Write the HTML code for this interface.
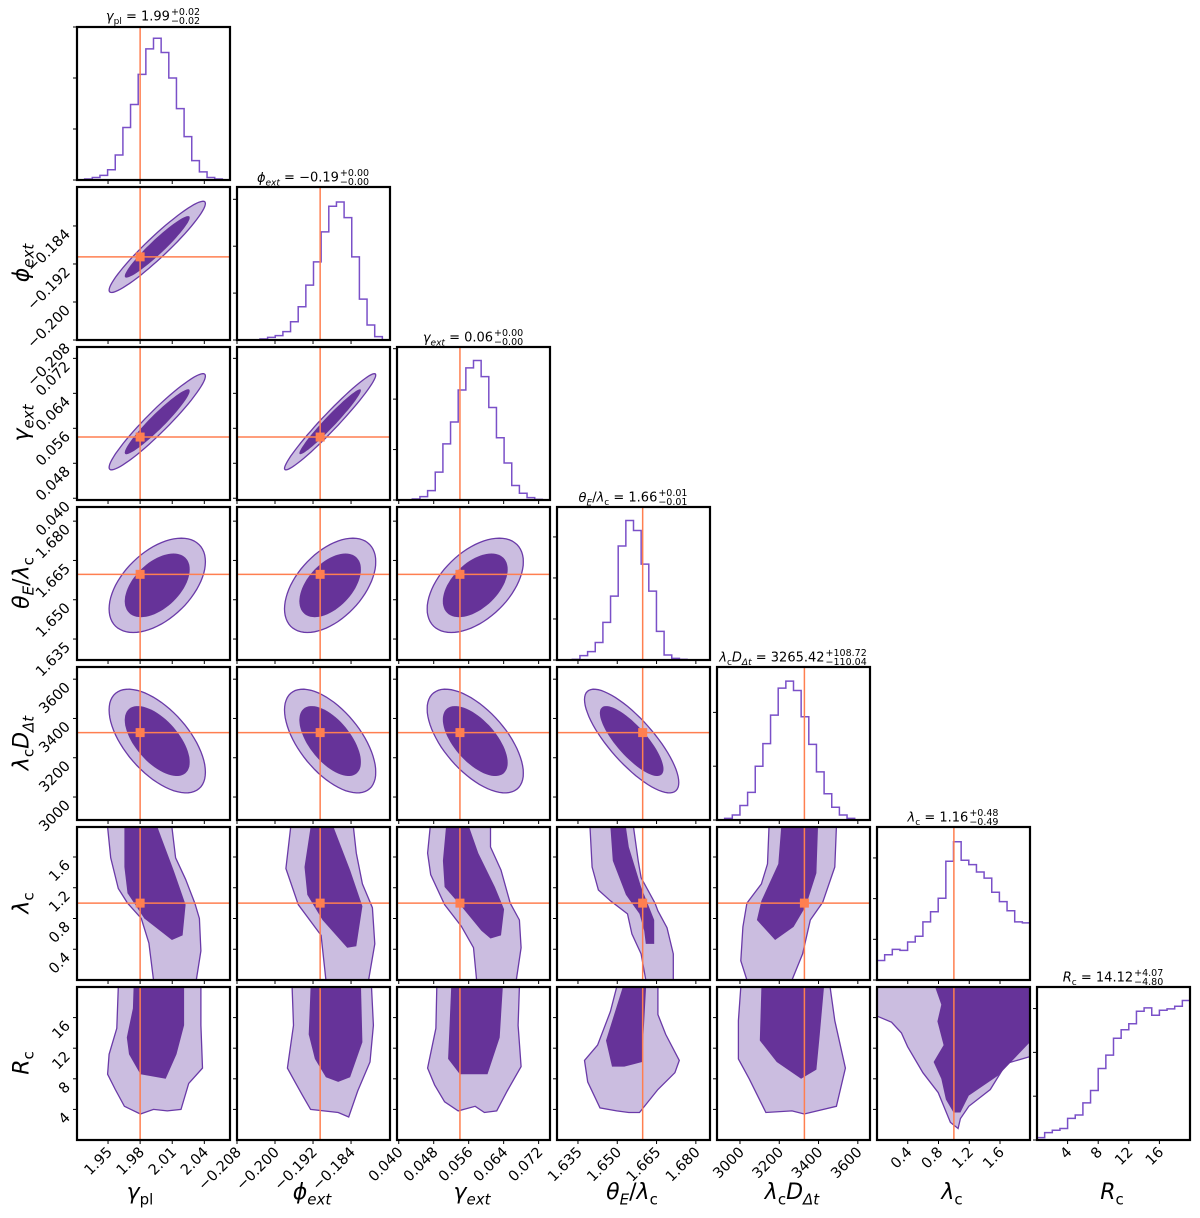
<!DOCTYPE html>
<html><head><meta charset="utf-8">
<style>
body{margin:0;background:#fff;}
#wrap{position:relative;width:1200px;height:1218px;overflow:hidden;font-family:"DejaVu Sans","Liberation Sans",sans-serif;}
svg{position:absolute;left:0;top:0;}
.t{position:absolute;font-size:13px;white-space:nowrap;transform:translateX(-50%);line-height:1;}
.ss{display:inline-block;vertical-align:middle;font-size:9.5px;line-height:9px;text-align:left;margin-left:1px;}
.ax{position:absolute;font-size:22px;white-space:nowrap;line-height:1;}
.ax sub{font-size:15px;}
i{font-style:italic;}
</style></head><body>
<div id="wrap">
<svg id="svg" width="1200" height="1218"></svg>
<div class="t" style="left:153px;top:8px"><i>γ</i><sub style="font-size:9px">pl</sub> = 1.99<span class="ss">+0.02<br>−0.02</span></div>
<div class="t" style="left:313px;top:169px"><i>ϕ<sub style="font-size:9px">ext</sub></i> = −0.19<span class="ss">+0.00<br>−0.00</span></div>
<div class="t" style="left:473px;top:329px"><i>γ<sub style="font-size:9px">ext</sub></i> = 0.06<span class="ss">+0.00<br>−0.00</span></div>
<div class="t" style="left:633px;top:489px"><i>θ<sub style="font-size:9px">E</sub></i>/<i>λ</i><sub style="font-size:9px">c</sub> = 1.66<span class="ss">+0.01<br>−0.01</span></div>
<div class="t" style="left:793px;top:649px"><i>λ</i><sub style="font-size:9px">c</sub><i>D</i><sub style="font-size:9px"><i>Δt</i></sub> = 3265.42<span class="ss">+108.72<br>−110.04</span></div>
<div class="t" style="left:953px;top:809px"><i>λ</i><sub style="font-size:9px">c</sub> = 1.16<span class="ss">+0.48<br>−0.49</span></div>
<div class="t" style="left:1113px;top:969px"><i>R</i><sub style="font-size:9px">c</sub> = 14.12<span class="ss">+4.07<br>−4.80</span></div>

<div class="ax" style="left:140px;top:1182px;transform:translateX(-50%)"><i>γ</i><sub>pl</sub></div>
<div class="ax" style="left:312px;top:1182px;transform:translateX(-50%)"><i>ϕ<sub>ext</sub></i></div>
<div class="ax" style="left:472px;top:1182px;transform:translateX(-50%)"><i>γ<sub>ext</sub></i></div>
<div class="ax" style="left:632px;top:1182px;transform:translateX(-50%)"><i>θ<sub>E</sub></i>/<i>λ</i><sub>c</sub></div>
<div class="ax" style="left:792px;top:1182px;transform:translateX(-50%)"><i>λ</i><sub>c</sub><i>D</i><sub><i>Δt</i></sub></div>
<div class="ax" style="left:952px;top:1182px;transform:translateX(-50%)"><i>λ</i><sub>c</sub></div>
<div class="ax" style="left:1112px;top:1182px;transform:translateX(-50%)"><i>R</i><sub>c</sub></div>

<div class="ax" style="left:24px;top:263px;transform:translate(-50%,-50%) rotate(-90deg)"><i>ϕ<sub>ext</sub></i></div>
<div class="ax" style="left:24px;top:423px;transform:translate(-50%,-50%) rotate(-90deg)"><i>γ<sub>ext</sub></i></div>
<div class="ax" style="left:24px;top:583px;transform:translate(-50%,-50%) rotate(-90deg)"><i>θ<sub>E</sub></i>/<i>λ</i><sub>c</sub></div>
<div class="ax" style="left:24px;top:743px;transform:translate(-50%,-50%) rotate(-90deg)"><i>λ</i><sub>c</sub><i>D</i><sub><i>Δt</i></sub></div>
<div class="ax" style="left:24px;top:903px;transform:translate(-50%,-50%) rotate(-90deg)"><i>λ</i><sub>c</sub></div>
<div class="ax" style="left:24px;top:1063px;transform:translate(-50%,-50%) rotate(-90deg)"><i>R</i><sub>c</sub></div>
</div>
<script>
// ---- data ----
const params = ["gamma-pl","phi-ext","gamma-ext","theta-e","lambda-d","lambda-c","r-c"];
const rangeLo = [1.921, -0.208, 0.0396, 1.627, 2883, 0, 0];
const rangeHi = [2.064, -0.1758, 0.0746, 1.6854, 3662, 1.99, 20];
const truth = [1.98, -0.1905, 0.054, 1.6597, 3328, 1.0, null];
const tickVals = [
 [1.95,1.98,2.01,2.04],
 [-0.208,-0.200,-0.192,-0.184],
 [0.040,0.048,0.056,0.064,0.072],
 [1.635,1.650,1.665,1.680],
 [3000,3200,3400,3600],
 [0.4,0.8,1.2,1.6],
 [4,8,12,16]];
const tickLabels = [
 ["1.95","1.98","2.01","2.04"],
 ["−0.208","−0.200","−0.192","−0.184"],
 ["0.040","0.048","0.056","0.064","0.072"],
 ["1.635","1.650","1.665","1.680"],
 ["3000","3200","3400","3600"],
 ["0.4","0.8","1.2","1.6"],
 ["4","8","12","16"]];
const hist0 = [0,2,5,9,20,49,103,148,207,257,278,250,200,140,85,38,16,5,2,0];
const hist1 = [0,0,0,3,8,13,25,55,100,165,235,325,402,415,368,250,123,45,10,0];
const hist2 = [0,0,3,10,28,83,167,232,327,393,415,367,275,185,110,43,20,7,2,0];
const hist3 = [0,0,2,13,25,52,112,190,339,415,385,285,205,85,15,5,2,0,0,0];
const hist4 = [0,5,15,43,82,160,227,312,392,413,385,307,225,143,78,38,15,5,0,0];
const hist5 = [58,75,91,88,113,130,173,203,243,353,411,356,343,321,303,261,233,206,173,170];
const hist6 = [7,22,29,34,64,74,110,147,212,252,302,327,345,382,392,370,385,389,397,414];
const histMax = [300,460,455,455,455,455,454];
const histTickStep = [100,141,150,122,160,121,130];
const postMean = [1.996, -0.1884, 0.0575, 1.6555, 3285];
const postSd = [0.0225, 0.0048, 0.0055, 0.0090, 132];
const corrPairs = [
 [0,1,0.95],[0,2,0.95],[1,2,0.97],
 [0,3,0.5],[1,3,0.5],[2,3,0.5],
 [0,4,-0.6],[1,4,-0.6],[2,4,-0.62],[3,4,-0.8]];
const contours = {
 "0,5":{outer:[[1.9496,1.99],[1.9525,1.59],[1.9596,1.19],[1.9682,1.0],[1.9811,0.80],[1.9882,0.48],[1.9925,0],[2.0325,0],[2.0368,0.38],[2.0354,0.80],[2.0311,1.0],[2.0225,1.31],[2.0132,1.59],[2.0097,1.99]],
        inner:[[1.9653,1.99],[1.9653,1.47],[1.9682,1.13],[1.9839,0.80],[2.0097,0.52],[2.0197,0.58],[2.0225,0.98],[2.0118,1.41],[1.9961,1.99]]},
 "1,5":{outer:[[-0.1967,1.99],[-0.1977,1.45],[-0.1951,0.98],[-0.1903,0.58],[-0.1893,0],[-0.1803,0],[-0.1790,0.47],[-0.1795,0.94],[-0.1816,1.25],[-0.1829,1.65],[-0.1835,1.99]],
        inner:[[-0.1925,1.99],[-0.1938,1.47],[-0.1932,1.11],[-0.1900,0.78],[-0.1848,0.42],[-0.1829,0.44],[-0.1816,0.96],[-0.1842,1.43],[-0.1877,1.99]]},
 "2,5":{outer:[[0.0472,1.99],[0.0466,1.65],[0.0473,1.37],[0.0505,0.98],[0.0543,0.70],[0.0571,0.42],[0.0578,0],[0.0669,0],[0.0680,0.42],[0.0676,0.78],[0.0655,1.0],[0.0634,1.43],[0.0610,1.73],[0.0610,1.99]],
        inner:[[0.0508,1.99],[0.0501,1.55],[0.0505,1.21],[0.0543,0.96],[0.0589,0.64],[0.0610,0.54],[0.0634,0.58],[0.0641,0.92],[0.0620,1.21],[0.0582,1.65],[0.0561,1.99]]},
 "3,5":{outer:[[1.6396,1.99],[1.6404,1.47],[1.6428,1.17],[1.6474,1.03],[1.6539,0.86],[1.6556,0.60],[1.6591,0.34],[1.6609,0],[1.6714,0],[1.6714,0.34],[1.6690,0.68],[1.6655,0.90],[1.6644,1.0],[1.6591,1.33],[1.6580,1.55],[1.6562,1.99]],
        inner:[[1.6474,1.99],[1.6483,1.55],[1.6533,1.11],[1.6585,0.86],[1.6603,0.64],[1.6609,0.47],[1.6641,0.47],[1.6641,0.78],[1.6591,1.21],[1.6544,1.73],[1.6533,1.99]]},
 "4,5":{outer:[[3148,1.99],[3140,1.51],[3109,1.25],[3035,1.0],[3015,0.69],[3004,0.25],[3035,0],[3265,0],[3319,0.34],[3358,0.78],[3421,1.01],[3483,1.47],[3491,1.99]],
        inner:[[3210,1.99],[3195,1.51],[3109,1.03],[3086,0.78],[3179,0.52],[3273,0.69],[3335,0.96],[3389,1.39],[3397,1.99]]},
 "0,6":{outer:[[1.9596,20],[1.9582,14.6],[1.9510,11.2],[1.9496,8.6],[1.9568,6.6],[1.9653,4.4],[1.9803,3.4],[1.9925,4.0],[2.0054,3.8],[2.0182,4.0],[2.0254,7.4],[2.0383,9.4],[2.0368,15],[2.0368,20]],
        inner:[[1.9739,20],[1.9732,17.2],[1.9675,13.4],[1.9696,11.2],[1.9803,8.6],[2.0039,8.0],[2.0140,11.2],[2.0211,15],[2.0211,20]]},
 "1,6":{outer:[[-0.1964,20],[-0.1961,15],[-0.1974,9.4],[-0.1958,7.6],[-0.1942,5.8],[-0.1925,4.0],[-0.1867,3.6],[-0.1845,3.0],[-0.1826,6.4],[-0.1800,10.2],[-0.1793,15],[-0.1797,20]],
        inner:[[-0.1925,20],[-0.1929,13.8],[-0.1916,10.6],[-0.1893,8.2],[-0.1867,7.6],[-0.1842,8.2],[-0.1816,12.8],[-0.1819,20]]},
 "2,6":{outer:[[0.0487,20],[0.0485,14.6],[0.0466,9.4],[0.0482,7.2],[0.0505,5.0],[0.0536,3.8],[0.0575,4.4],[0.0596,3.6],[0.0624,3.8],[0.0648,6.4],[0.0680,9.6],[0.0673,15],[0.0676,20]],
        inner:[[0.0520,20],[0.0513,10.6],[0.0540,8.6],[0.0575,8.6],[0.0603,8.6],[0.0631,13.4],[0.0638,20]]},
 "3,6":{outer:[[1.6498,20],[1.6474,16.8],[1.6425,12.4],[1.6375,10.4],[1.6387,7.6],[1.6434,4.2],[1.6498,3.8],[1.6544,3.6],[1.6585,3.6],[1.6655,6.6],[1.6720,8.8],[1.6737,10.4],[1.6685,13.8],[1.6655,16.4],[1.6655,20]],
        inner:[[1.6521,20],[1.6457,13.0],[1.6480,9.6],[1.6527,9.6],[1.6595,10.2],[1.6600,13.8],[1.6610,20]]},
 "4,6":{outer:[[3004,20],[2992,15.6],[2992,10.6],[3047,8.0],[3132,3.6],[3265,3.8],[3327,3.4],[3491,4.4],[3537,9.4],[3483,15.6],[3459,20]],
        inner:[[3109,20],[3101,13.0],[3187,10.2],[3311,8.0],[3389,9.2],[3405,13.4],[3428,20]]},
 "5,6":{outer:[[0,20],[0,16.2],[0.189,15.4],[0.318,14],[0.398,12.2],[0.597,8.8],[0.796,6.2],[0.955,2.3],[1.055,1.5],[1.085,2.8],[1.194,4.4],[1.473,6.6],[1.682,10],[1.99,10.9],[1.99,20]],
        inner:[[0.756,20],[0.836,17.7],[0.786,15.5],[0.866,12.4],[0.736,10.2],[0.836,8],[0.896,5.3],[0.995,3.6],[1.085,3.6],[1.194,5.8],[1.572,8.4],[1.99,12.8],[1.99,20]]}
};
const hists = [hist0,hist1,hist2,hist3,hist4,hist5,hist6];

const L0=77, T0=27, S=153, PITCH=160;
const NS="http://www.w3.org/2000/svg";
const svg=document.getElementById('svg');
const px=c=>L0+c*PITCH, py=r=>T0+r*PITCH;
const sx=(c,v)=>px(c)+(v-rangeLo[c])/(rangeHi[c]-rangeLo[c])*S;
const sy=(r,v)=>py(r)+S-(v-rangeLo[r])/(rangeHi[r]-rangeLo[r])*S;
function mk(tag,attrs,parent){const e=document.createElementNS(NS,tag);for(const k in attrs)e.setAttribute(k,attrs[k]);(parent||svg).appendChild(e);return e;}
const ORANGE="#ff7f50", DARK="#663399", LIGHT="#cbbde0", EDGE="#6a3aa8", HIST="#7a50c8";

const defs=mk('defs',{});
for(let r=0;r<7;r++)for(let c=0;c<=r;c++){
  const cp=mk('clipPath',{id:'cp'+c+'_'+r},defs);
  mk('rect',{x:px(c),y:py(r),width:S,height:S},cp);
}

function polyPts(c,r,arr){return arr.map(p=>sx(c,p[0]).toFixed(1)+','+sy(r,p[1]).toFixed(1)).join(' ');}
function ellipsePts(c,r,rho,k){
  const out=[];
  for(let i=0;i<72;i++){const t=i/72*2*Math.PI;
    const xv=postMean[c]+k*postSd[c]*Math.cos(t);
    const yv=postMean[r]+k*postSd[r]*(rho*Math.cos(t)+Math.sqrt(1-rho*rho)*Math.sin(t));
    out.push([xv,yv]);}
  return out;
}

for(let r=0;r<7;r++){
  for(let c=0;c<=r;c++){
    const g=mk('g',{'clip-path':'url(#cp'+c+'_'+r+')'});
    
    
    if(r===c){
      const h=hists[c], n=h.length, w=(rangeHi[c]-rangeLo[c])/n;
      let d='';
      for(let i=0;i<n;i++){
        const x0=sx(c,rangeLo[c]+i*w), x1=sx(c,rangeLo[c]+(i+1)*w);
        const y=py(r)+S-h[i]/histMax[c]*S;
        d+=(i===0?'M'+x0+','+y:'L'+x0+','+y)+'L'+x1+','+y;
      }
      const p=mk('path',{d:d,fill:'none',stroke:HIST,'stroke-width':1.5},g);
      
      
      if(truth[c]!==null){
        const tl=mk('line',{x1:sx(c,truth[c]),x2:sx(c,truth[c]),y1:py(r),y2:py(r)+S,stroke:ORANGE,'stroke-width':1.5},g);
        
        
      }
    } else {
      let outer, inner;
      const key=c+','+r;
      if(contours[key]){outer=contours[key].outer;inner=contours[key].inner;}
      else{const cp=corrPairs.find(q=>q[0]===c&&q[1]===r);outer=ellipsePts(c,r,cp[2],2.0);inner=ellipsePts(c,r,cp[2],1.35);}
      const po=mk('polygon',{points:polyPts(c,r,outer),fill:LIGHT,stroke:EDGE,'stroke-width':1.3},g);
      
      
      const pi=mk('polygon',{points:polyPts(c,r,inner),fill:DARK,stroke:'none'},g);
      
      
      if(truth[c]!==null){
        const vl=mk('line',{x1:sx(c,truth[c]),x2:sx(c,truth[c]),y1:py(r),y2:py(r)+S,stroke:ORANGE,'stroke-width':1.5},g);
        
        
      }
      if(truth[r]!==null){
        const hl=mk('line',{x1:px(c),x2:px(c)+S,y1:sy(r,truth[r]),y2:sy(r,truth[r]),stroke:ORANGE,'stroke-width':1.5},g);
        
        
        if(truth[c]!==null){
          const m=mk('rect',{x:sx(c,truth[c])-4.5,y:sy(r,truth[r])-4.5,width:9,height:9,fill:ORANGE},g);
          
          
        }
      }
    }
    const fr=mk('rect',{x:px(c),y:py(r),width:S,height:S,fill:'none',stroke:'#000','stroke-width':2.2});
    
    
    tickVals[c].forEach((v,i)=>{
      const x=sx(c,v);
      mk('line',{x1:x,x2:x,y1:py(r)+S,y2:py(r)+S+4,stroke:'#000','stroke-width':1});
      if(r===6){
        const t=mk('text',{x:x+5,y:py(r)+S+13,'text-anchor':'end','font-size':14.5,transform:'rotate(-45 '+(x+5)+' '+(py(r)+S+13)+')'});
        t.textContent=tickLabels[c][i];
        
        
      }
    });
    if(r===c){
      for(let v=0;v<=histMax[c];v+=histTickStep[c]){
        const y=py(r)+S-v/histMax[c]*S;
        mk('line',{x1:px(c)-4,x2:px(c),y1:y,y2:y,stroke:'#000','stroke-width':1});
      }
    } else {
      tickVals[r].forEach((v,i)=>{
        const y=sy(r,v);
        mk('line',{x1:px(c)-4,x2:px(c),y1:y,y2:y,stroke:'#000','stroke-width':1});
        if(c===0){
          const t=mk('text',{x:px(c)-6,y:y+9,'text-anchor':'end','font-size':14.5,transform:'rotate(-45 '+(px(c)-6)+' '+(y+9)+')'});
          t.textContent=tickLabels[r][i];
          
          
        }
      });
    }
  }
}
</script>
</body></html>
